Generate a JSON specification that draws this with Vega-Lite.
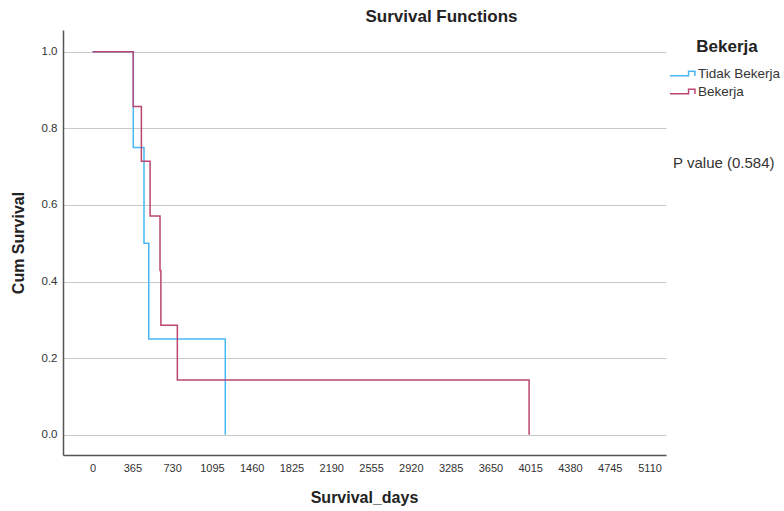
{
  "$schema": "https://vega.github.io/schema/vega-lite/v6.json",
  "width": 603,
  "height": 425,
  "autosize": {"type": "none"},
  "padding": {"left": 63, "top": 30, "right": 118, "bottom": 56},
  "config": {"view": {"stroke": null}, "font": "Liberation Sans"},
  "title": {"text": "Survival Functions", "anchor": "middle", "dx": 77, "dy": 17, "fontSize": 17, "fontWeight": "bold", "color": "#222222", "baseline": "alphabetic", "offset": 8},
  "layer": [
    {
      "data": {"values": [
        {"group": "Tidak Bekerja", "days": 0, "survival": 1.0},
        {"group": "Tidak Bekerja", "days": 374, "survival": 0.75},
        {"group": "Tidak Bekerja", "days": 472, "survival": 0.5},
        {"group": "Tidak Bekerja", "days": 516, "survival": 0.25},
        {"group": "Tidak Bekerja", "days": 1218, "survival": 0.0},
        {"group": "Bekerja", "days": 0, "survival": 1.0},
        {"group": "Bekerja", "days": 373, "survival": 0.857},
        {"group": "Bekerja", "days": 448, "survival": 0.714},
        {"group": "Bekerja", "days": 528, "survival": 0.571},
        {"group": "Bekerja", "days": 619, "survival": 0.429},
        {"group": "Bekerja", "days": 627, "survival": 0.286},
        {"group": "Bekerja", "days": 778, "survival": 0.143},
        {"group": "Bekerja", "days": 4005, "survival": 0.0}
      ]},
      "mark": {"type": "line", "interpolate": "step-after", "strokeWidth": 1.5},
      "encoding": {
        "x": {"field": "days", "type": "quantitative",
          "scale": {"domain": [-271, 5261], "nice": false, "zero": false},
          "axis": {"values": [0, 365, 730, 1095, 1460, 1825, 2190, 2555, 2920, 3285, 3650, 4015, 4380, 4745, 5110], "format": "d",
            "grid": false, "ticks": false, "labelFontSize": 11, "labelColor": "#333333", "labelPadding": 7,
            "domainColor": "#555555", "domainWidth": 1.5,
            "title": "Survival_days", "titleFontSize": 16, "titleFontWeight": "bold", "titleColor": "#222222",
            "titleX": 301, "titleY": 42, "titleBaseline": "middle", "labelFlush": false, "labelOverlap": false}},
        "y": {"field": "survival", "type": "quantitative",
          "scale": {"domain": [-0.053, 1.057], "nice": false, "zero": false},
          "axis": {"values": [0, 0.2, 0.4, 0.6, 0.8, 1.0], "format": ".1f",
            "grid": true, "gridColor": "#c8c8c8", "gridWidth": 1.2, "ticks": false,
            "labelFontSize": 11.5, "labelColor": "#333333", "labelPadding": 6,
            "domainColor": "#555555", "domainWidth": 1.5,
            "title": "Cum Survival", "titleFontSize": 16, "titleFontWeight": "bold", "titleColor": "#222222",
            "titleX": -45, "titleY": 212.5, "titleBaseline": "middle", "titleAlign": "center"}},
        "color": {"field": "group", "type": "nominal",
          "scale": {"domain": ["Tidak Bekerja", "Bekerja"], "range": ["#48B7F5", "#BC4672"]},
          "legend": {"title": "Bekerja", "orient": "none", "legendX": 610, "legendY": 9,
            "titleFontSize": 17, "titleFontWeight": "bold", "titleColor": "#222222", "titleAnchor": "middle", "titlePadding": 8,
            "labelFontSize": 13.5, "labelColor": "#333333", "labelOffset": 6,
            "symbolType": "M-1.44,0.25H0.7V-0.25H1.44V0.3", "symbolSize": 300, "symbolStrokeWidth": 1.5, "symbolFillColor": "transparent", "rowPadding": 2}}
      }
    },
    {
      "data": {"values": [{"label": "P value (0.584)"}]},
      "mark": {"type": "text", "align": "left", "baseline": "middle", "fontSize": 15, "color": "#333333"},
      "encoding": {
        "x": {"datum": 5326, "type": "quantitative"},
        "y": {"datum": 0.709, "type": "quantitative"},
        "text": {"field": "label"}
      }
    }
  ]
}
